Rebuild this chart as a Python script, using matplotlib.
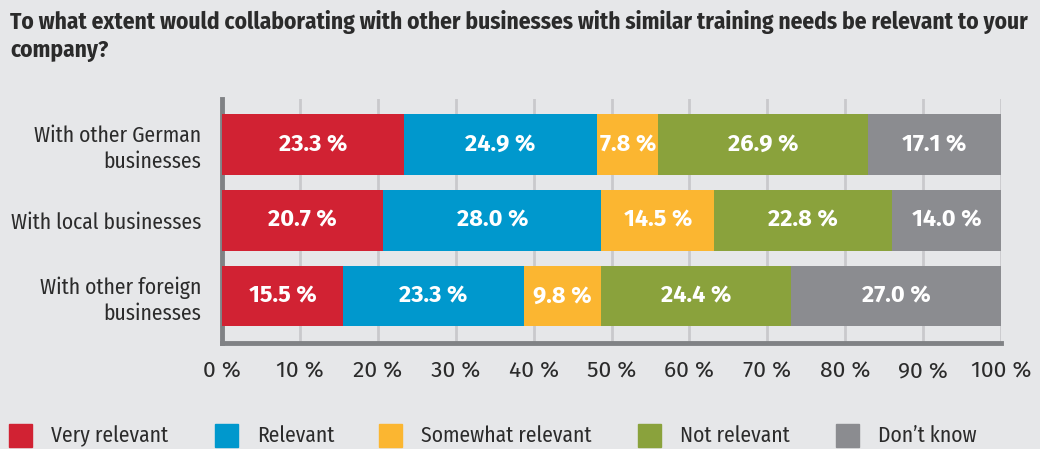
import matplotlib.pyplot as plt
from matplotlib.patches import Rectangle

plt.rcParams['font.family'] = ['Fira Sans Condensed', 'DejaVu Sans']
num_font = ['Fira Sans', 'DejaVu Sans']

categories = ["With other German\nbusinesses", "With local businesses", "With other foreign\nbusinesses"]
series = ["Very relevant", "Relevant", "Somewhat relevant", "Not relevant", "Don\u2019t know"]
values = [
    [23.3, 20.7, 15.5],
    [24.9, 28.0, 23.3],
    [7.8, 14.5, 9.8],
    [26.9, 22.8, 24.4],
    [17.1, 14.0, 27.0],
]
colors = ["#d12233", "#0098cd", "#fbb631", "#8aa23c", "#8b8c90"]
ticks = [0, 10, 20, 30, 40, 50, 60, 70, 80, 90, 100]

bg = "#e6e7e9"
txt = "#2b2b2b"
fs = 15.5
fig = plt.figure(figsize=(10.4, 4.49), dpi=100, facecolor=bg)
ax = fig.add_axes([0.2135, 0.236, 0.749, 0.5435], facecolor=bg)

y = range(len(categories))
left = [0] * len(categories)
for name, vals, col in zip(series, values, colors):
    bars = ax.barh(y, vals, left=left, height=0.8, color=col, zorder=3)
    for b, v in zip(bars, vals):
        ax.text(b.get_x() + b.get_width() / 2, b.get_y() + b.get_height() / 2,
                f"{v:.1f} %", ha="center", va="center", color="white",
                fontsize=17, fontweight="bold", family=num_font, zorder=4)
    left = [l + v for l, v in zip(left, vals)]

ax.set_xlim(0, 100)
ax.set_ylim(2.62, -0.6)
ax.set_xticks(ticks)
ax.set_xticklabels([f"{t} %" for t in ticks], fontsize=16.5, color=txt, family=num_font)
ax.set_yticks(list(y))
ax.set_yticklabels(categories, fontsize=fs, color=txt, linespacing=1.25)
ax.tick_params(length=0)
ax.tick_params(axis="x", pad=13)
ax.tick_params(axis="y", pad=15)
ax.xaxis.grid(True, color="#c9c9cc", linewidth=2)
ax.set_axisbelow(True)
for s in ["top", "right"]:
    ax.spines[s].set_visible(False)
for s in ["left", "bottom"]:
    ax.spines[s].set_color("#808285")
    ax.spines[s].set_linewidth(3.5)

fig.text(0.0096, 0.978, "To what extent would collaborating with other businesses with similar training needs be relevant to your\ncompany?",
         ha="left", va="top", fontsize=16.8, fontweight="bold", color=txt, linespacing=1.25)

# legend
sq_x = [9, 215, 379, 638, 836]
for name, col, x0 in zip(series, colors, sq_x):
    fig.add_artist(Rectangle((x0 / 1040, 1 - 447 / 449), 23 / 1040, 23 / 449,
                             transform=fig.transFigure, color=col))
    fig.text((x0 + 42) / 1040, 1 - 436 / 449, name, ha="left", va="center",
             fontsize=fs, color=txt)

fig.savefig("out.png", dpi=100, facecolor=bg)
